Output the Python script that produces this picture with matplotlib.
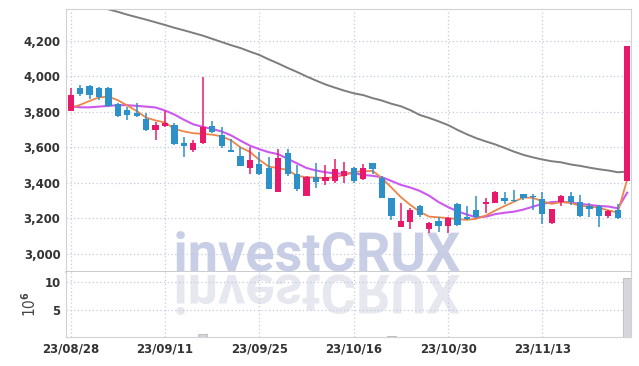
import matplotlib

matplotlib.use('Agg')
import matplotlib.pyplot as plt
import numpy as np
import pandas as pd
from matplotlib.textpath import TextPath
from matplotlib.patches import PathPatch
from matplotlib.font_manager import FontProperties
from matplotlib.transforms import Affine2D, IdentityTransform
from matplotlib.ticker import FuncFormatter

plt.rcParams['font.family'] = ['DejaVu Sans']
plt.rcParams['font.stretch'] = 'condensed'
plt.rcParams['font.weight'] = 'bold'

# -----------------------------
# Data
# -----------------------------
krx_holidays = ['2023-09-28', '2023-09-29', '2023-10-02', '2023-10-03', '2023-10-09']
dates = pd.bdate_range('2023-08-28', '2023-11-24', freq='C', holidays=krx_holidays)

opens = [3807, 3935, 3945, 3935, 3935, 3845, 3811, 3796, 3760, 3700,
         3723, 3727, 3627, 3586, 3627, 3718, 3670, 3586, 3552, 3486,
         3507, 3486, 3350, 3571, 3451, 3328, 3432, 3413, 3413, 3440,
         3483, 3421, 3511, 3430, 3314, 3154, 3182, 3270, 3141, 3186,
         3160, 3279, 3210, 3248, 3280, 3289, 3314, 3305, 3336, 3329,
         3310, 3173, 3291, 3327, 3291, 3270, 3272, 3216, 3248, 3413]
highs = [3935, 3950, 3952, 3940, 3938, 3850, 3828, 3850, 3795, 3745,
         3805, 3736, 3661, 3640, 3995, 3749, 3717, 3650, 3605, 3601,
         3576, 3545, 3590, 3590, 3501, 3440, 3511, 3501, 3533, 3520,
         3490, 3507, 3515, 3440, 3316, 3289, 3257, 3276, 3180, 3206,
         3210, 3285, 3270, 3327, 3314, 3352, 3346, 3360, 3340, 3335,
         3347, 3255, 3330, 3347, 3330, 3285, 3275, 3245, 3280, 4172]
lows = [3805, 3890, 3872, 3865, 3830, 3770, 3755, 3770, 3693, 3642,
        3715, 3612, 3548, 3575, 3620, 3680, 3599, 3572, 3495, 3451,
        3445, 3366, 3350, 3440, 3355, 3328, 3370, 3390, 3398, 3398,
        3398, 3415, 3451, 3314, 3192, 3150, 3139, 3210, 3117, 3126,
        3117, 3155, 3190, 3203, 3233, 3285, 3280, 3290, 3305, 3248,
        3166, 3170, 3272, 3277, 3210, 3210, 3150, 3201, 3196, 3413]
closes = [3896, 3900, 3895, 3883, 3835, 3778, 3783, 3778, 3700, 3727,
          3740, 3620, 3608, 3624, 3717, 3689, 3608, 3576, 3498, 3530,
          3451, 3366, 3543, 3451, 3364, 3432, 3407, 3436, 3477, 3468,
          3413, 3483, 3479, 3317, 3216, 3186, 3248, 3220, 3173, 3158,
          3201, 3161, 3197, 3210, 3290, 3346, 3300, 3297, 3314, 3318,
          3223, 3253, 3327, 3291, 3216, 3253, 3216, 3242, 3205, 4172]

ma_short = [3822, 3840, 3862, 3882, 3886, 3866, 3836, 3805, 3768, 3752,
            3740, 3705, 3690, 3680, 3676, 3672, 3662, 3640, 3600, 3575,
            3530, 3492, 3483, 3473, 3440, 3432, 3430, 3427, 3432, 3445,
            3462, 3465, 3468, 3427, 3374, 3320, 3276, 3238, 3210, 3206,
            3202, 3196, 3192, 3198, 3216, 3244, 3270, 3294, 3318, 3316,
            3296, 3282, 3292, 3288, 3270, 3267, 3260, 3245, 3233, 3420]
ma_mid = [3832, 3826, 3826, 3830, 3834, 3838, 3838, 3834, 3830, 3825,
          3808, 3785, 3756, 3730, 3716, 3704, 3690, 3668, 3638, 3610,
          3590, 3573, 3562, 3536, 3510, 3484, 3470, 3460, 3454, 3452,
          3455, 3445, 3440, 3432, 3411, 3389, 3374, 3355, 3328, 3292,
          3264, 3240, 3222, 3206, 3210, 3224, 3232, 3238, 3250, 3266,
          3282, 3292, 3294, 3289, 3282, 3276, 3270, 3267, 3257, 3345]
ma_long = [4445, 4430, 4412, 4395, 4378, 4364, 4348, 4334, 4320, 4305,
           4290, 4274, 4260, 4245, 4230, 4212, 4194, 4176, 4160, 4140,
           4121, 4096, 4073, 4048, 4025, 4000, 3977, 3955, 3937, 3920,
           3905, 3895, 3878, 3864, 3846, 3832, 3810, 3783, 3766, 3747,
           3726, 3699, 3674, 3652, 3634, 3617, 3597, 3576, 3558, 3544,
           3532, 3522, 3516, 3504, 3496, 3486, 3477, 3470, 3460, 3464]

# volume in millions
volume = [0.03, 0.02, 0.02, 0.02, 0.03, 0.02, 0.02, 0.02, 0.03, 0.02,
          0.03, 0.03, 0.03, 0.02, 0.55, 0.04, 0.03, 0.02, 0.03, 0.03,
          0.02, 0.03, 0.04, 0.03, 0.02, 0.02, 0.02, 0.02, 0.02, 0.02,
          0.02, 0.02, 0.02, 0.04, 0.25, 0.03, 0.03, 0.02, 0.02, 0.02,
          0.03, 0.03, 0.02, 0.02, 0.02, 0.03, 0.02, 0.02, 0.02, 0.02,
          0.03, 0.02, 0.02, 0.02, 0.02, 0.02, 0.03, 0.02, 0.02, 10.7]

UP = '#e8196a'
DOWN = '#2b91c8'
GRID = '#c6cae0'
SPINE = '#d2d2d6'
LABEL = '#333333'

# -----------------------------
# Figure
# -----------------------------
W, H = 639, 366
fig = plt.figure(figsize=(W / 100, H / 100), dpi=100)
ax = fig.add_axes([66 / W, 94 / H, 565 / W, 263 / H])
vax = fig.add_axes([66 / W, 29 / H, 565 / W, 65 / H], sharex=ax)

x = np.arange(len(dates))
o = np.array(opens)
c = np.array(closes)
colors = [UP if cc >= oo else DOWN for oo, cc in zip(o, c)]
bottoms = np.minimum(o, c)
heights = np.maximum(np.abs(c - o), 5)

# moving averages
ax.plot(x, ma_long, color='#7d7d7d', lw=1.4, zorder=2)
ax.plot(x, ma_mid, color='#cc58ee', lw=1.5, zorder=2)
ax.plot(x, ma_short, color='#ee8548', lw=1.3, zorder=2)

# candles
ax.vlines(x, lows, highs, color=colors, linewidth=1.1, zorder=4)
ax.bar(x, heights, bottom=bottoms, width=0.66, color=colors, linewidth=0, zorder=5)

ax.set_xlim(-0.5, 59.4)
ax.set_ylim(2898, 4380)
ax.set_yticks(range(3000, 4201, 200))
ax.yaxis.set_major_formatter(FuncFormatter(lambda v, p: f'{int(v):,}'))
ax.set_xticks(x[::10])
ax.tick_params(axis='x', labelbottom=False, length=0)
ax.tick_params(axis='y', length=0, pad=4, labelsize=9.4, labelcolor=LABEL)
ax.grid(True, color=GRID, linestyle=(0, (1, 2)), linewidth=0.9)
for s in ['top', 'left', 'right']:
    ax.spines[s].set_color(SPINE)
ax.spines['bottom'].set_color('#bdbdc2')
ax.spines['bottom'].set_linewidth(1.1)

# volume
vax.bar(x, volume, width=0.95, color='#d6d6dc', edgecolor='#b8b8c0', linewidth=0.6, zorder=3)
vax.set_ylim(0, 11.85)
vax.set_yticks([5, 10])
vax.set_xticks(x[::10])
vax.set_xticklabels([d.strftime('%y/%m/%d') for d in dates[::10]])
vax.tick_params(axis='both', length=0, labelsize=9.4, labelcolor=LABEL)
vax.tick_params(axis='x', pad=4)
vax.tick_params(axis='y', pad=4)
vax.grid(True, color=GRID, linestyle=(0, (1, 2)), linewidth=0.9)
vax.spines['top'].set_visible(False)
for s in ['bottom', 'left', 'right']:
    vax.spines[s].set_color(SPINE)
vax.set_ylabel('10$^6$', fontsize=11, color='#444444', fontweight='normal')
vax.yaxis.set_label_coords(-0.047, 0.5)

# watermark + reflection
tp = TextPath((0, 0), 'investCRUX', size=54, prop=FontProperties(family='Roboto', weight='bold'))
bb = tp.get_extents()
dx = 318 - (bb.x0 + bb.x1) / 2
base = H - 272
top_path = Affine2D().translate(dx, base + 1).transform_path(tp)
mirror_path = Affine2D().scale(1, -1).translate(dx, base - 3).transform_path(tp)
ax.add_patch(PathPatch(top_path, transform=IdentityTransform(), facecolor='#c8cee5',
                       edgecolor='none', zorder=1, clip_on=False))
vax.add_patch(PathPatch(mirror_path, transform=IdentityTransform(), facecolor='#e6e7ef',
                        edgecolor='none', zorder=1, clip_on=False))

fig.savefig('out.png', dpi=100, facecolor='white')
